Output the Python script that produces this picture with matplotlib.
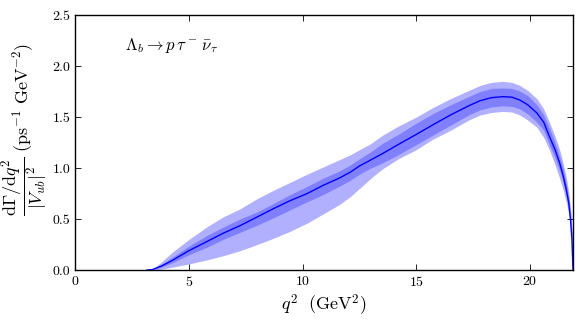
import numpy as np
import matplotlib
matplotlib.use('Agg')
import matplotlib.pyplot as plt

plt.rcParams['font.family'] = 'cmr10'
plt.rcParams['mathtext.fontset'] = 'cm'
plt.rcParams['axes.formatter.use_mathtext'] = True

# q^2 grid (GeV^2) and dGamma/dq^2 / |Vub|^2
q2 = [3.16, 3.4, 3.8, 4.3, 5.0, 5.8, 6.5, 7.25, 8.0, 8.7,
      9.45, 10.2, 10.9, 11.6, 12.1, 12.5, 13.0, 13.5, 14.2, 15.0,
      15.7, 16.5, 17.3, 17.8, 18.3, 18.8, 19.2, 19.55, 19.9, 20.3,
      20.6, 20.85, 21.1, 21.3, 21.45, 21.6, 21.7, 21.78, 21.84, 21.89]
central = [0, 0.005, 0.04, 0.098, 0.19, 0.28, 0.36, 0.435, 0.52, 0.60,
           0.68, 0.75, 0.83, 0.90, 0.96, 1.02, 1.08, 1.14, 1.23, 1.33,
           1.42, 1.52, 1.61, 1.66, 1.69, 1.70, 1.695, 1.667, 1.62, 1.54,
           1.45, 1.31, 1.18, 1.05, 0.93, 0.78, 0.66, 0.49, 0.30, 0]
outer_hi = [0, 0.01, 0.08, 0.18, 0.30, 0.425, 0.52, 0.60, 0.70, 0.78,
            0.86, 0.94, 1.01, 1.08, 1.13, 1.18, 1.24, 1.32, 1.41, 1.50,
            1.59, 1.68, 1.76, 1.81, 1.84, 1.85, 1.84, 1.81, 1.76, 1.68,
            1.58, 1.45, 1.31, 1.18, 1.05, 0.90, 0.76, 0.60, 0.40, 0]
outer_lo = [0, 0, 0.01, 0.03, 0.06, 0.10, 0.14, 0.19, 0.25, 0.31,
            0.38, 0.46, 0.55, 0.64, 0.72, 0.80, 0.90, 0.99, 1.09, 1.18,
            1.28, 1.37, 1.47, 1.52, 1.545, 1.555, 1.55, 1.52, 1.47, 1.40,
            1.30, 1.18, 1.03, 0.90, 0.79, 0.66, 0.56, 0.44, 0.26, 0]
inner_hi = [0, 0.007, 0.055, 0.13, 0.235, 0.34, 0.42, 0.50, 0.57, 0.65,
            0.74, 0.82, 0.90, 0.97, 1.03, 1.09, 1.16, 1.24, 1.33, 1.44,
            1.53, 1.62, 1.70, 1.75, 1.78, 1.785, 1.78, 1.755, 1.71, 1.62,
            1.52, 1.39, 1.25, 1.11, 0.99, 0.84, 0.71, 0.56, 0.37, 0]
inner_lo = [0, 0.003, 0.03, 0.075, 0.15, 0.225, 0.30, 0.37, 0.44, 0.51,
            0.59, 0.67, 0.74, 0.82, 0.88, 0.94, 1.00, 1.05, 1.13, 1.23,
            1.32, 1.42, 1.52, 1.57, 1.60, 1.61, 1.605, 1.58, 1.53, 1.45,
            1.37, 1.23, 1.10, 0.98, 0.87, 0.72, 0.61, 0.48, 0.32, 0]

fig = plt.figure(figsize=(5.82, 3.2), dpi=100)
ax = fig.add_axes([0.129, 0.156, 0.856, 0.797])

ax.fill_between(q2, outer_lo, outer_hi, color='#b0b0ff', lw=0)
ax.fill_between(q2, inner_lo, inner_hi, color='#8080ff', lw=0)
ax.plot(q2, central, color='#0000ff', lw=1.0)

ax.set_xlim(0, 21.9)
ax.set_ylim(0, 2.5)
ax.set_xticks([0, 5, 10, 15, 20])
ax.set_yticks([0, 0.5, 1.0, 1.5, 2.0, 2.5])
ax.set_yticklabels(['0.0', '0.5', '1.0', '1.5', '2.0', '2.5'])
ax.tick_params(direction='in', top=True, right=True, length=4,
               labelsize=10, width=0.6)
for sp in ax.spines.values():
    sp.set_linewidth(1.0)

ax.text(2.2, 2.2, r'$\Lambda_b \rightarrow p\,\tau^-\,\bar{\nu}_\tau$',
        fontsize=12, va='center')
ax.set_xlabel(r'$q^2\ \ (\mathrm{GeV}^2)$', fontsize=13, labelpad=3)
ax.set_ylabel(r'$\dfrac{\mathrm{d}\Gamma/\mathrm{d}q^2}{|V_{ub}|^2}\ '
              r'(\mathrm{ps}^{-1}\ \mathrm{GeV}^{-2})$', fontsize=13)
ax.yaxis.set_label_coords(-0.05, 0.55)

fig.savefig('out.png', dpi=100, facecolor='white')
